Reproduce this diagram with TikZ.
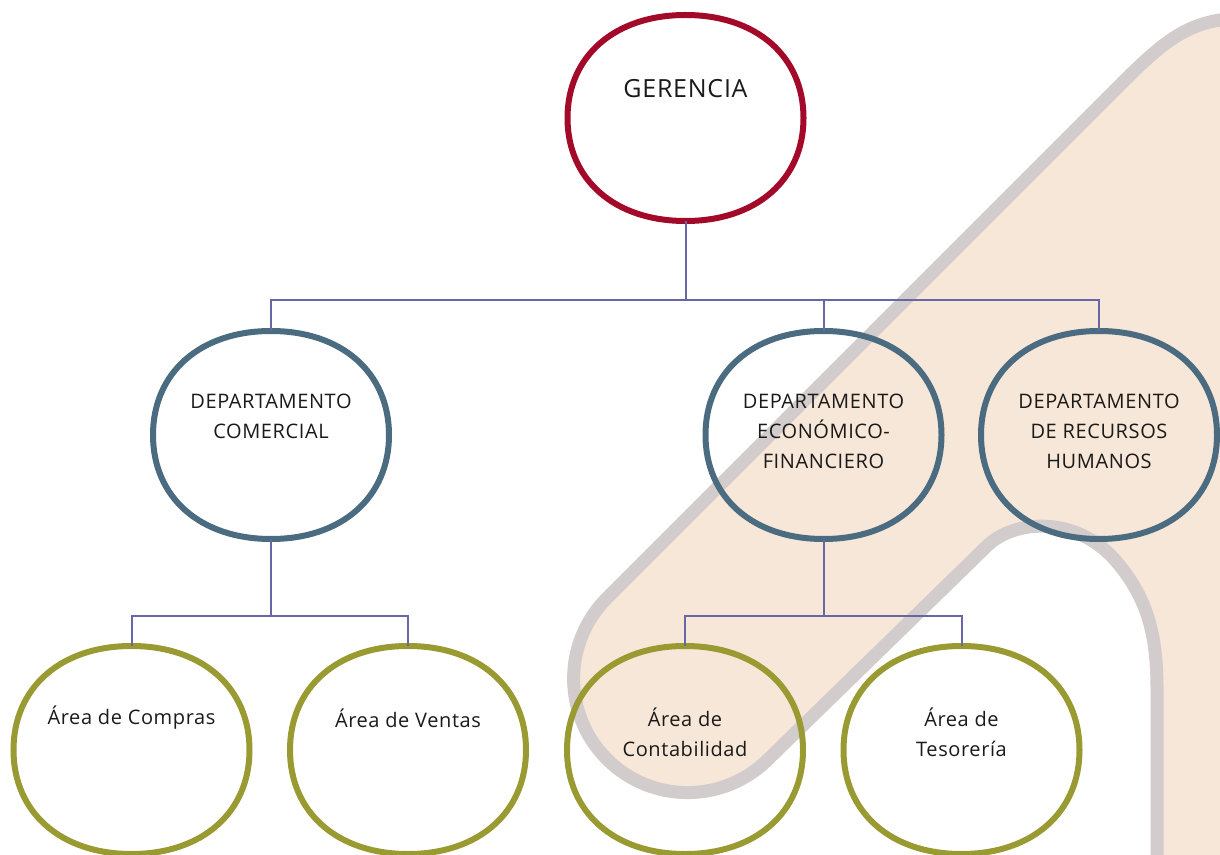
\documentclass[tikz,border=0pt]{standalone}
\usepackage{fontspec}
\setmainfont{Open Sans}[LetterSpace=3]
\usetikzlibrary{calc}
\definecolor{gerred}{HTML}{A30A2A}
\definecolor{depblue}{HTML}{4B6B80}
\definecolor{areaolive}{HTML}{9A9A33}
\definecolor{linkc}{HTML}{6767A3}
\definecolor{bandfill}{HTML}{F6E7D8}
\definecolor{bandline}{HTML}{D3CCCC}
\definecolor{txt}{HTML}{1A1A1A}
\newcommand\squirclepath[2]{%
  \draw[#2, line width=3pt]
   (#1.east) .. controls ($(#1.east)!0.6!(#1.north east)$) and ($(#1.north)!0.6!(#1.north east)$) .. (#1.north)
   .. controls ($(#1.north)!0.6!(#1.north west)$) and ($(#1.west)!0.6!(#1.north west)$) .. (#1.west)
   .. controls ($(#1.west)!0.6!(#1.south west)$) and ($(#1.south)!0.6!(#1.south west)$) .. (#1.south)
   .. controls ($(#1.south)!0.6!(#1.south east)$) and ($(#1.east)!0.6!(#1.south east)$) .. (#1.east) -- cycle;}
\begin{document}
\begin{tikzpicture}[x=0.5pt,y=-0.5pt,
  bubble/.style={rectangle, minimum width=118pt, minimum height=104pt, inner sep=0pt, outer sep=0pt},
  lbl/.style={text=txt, align=center, inner sep=0pt},
  link/.style={draw=linkc, line width=1pt}]
\useasboundingbox (0,0) rectangle (1220,855);
% background watermark
\fill[bandfill] (1220,20) .. controls (1180,26) and (1155,50) .. (1117,88) -- (607,598)
  arc[start angle=225,end angle=45,radius=114] -- (988,545)
  .. controls (1015,520) and (1075,515) .. (1115,560)
  .. controls (1150,600) and (1157,640) .. (1157,690) -- (1157,860) -- (1225,860) -- (1225,20) -- cycle;
\draw[bandline, line width=6.5pt] (1225,19) -- (1220,20) .. controls (1180,26) and (1155,50) .. (1117,88) -- (607,598)
  arc[start angle=225,end angle=45,radius=114] -- (988,545)
  .. controls (1015,520) and (1075,515) .. (1115,560)
  .. controls (1150,600) and (1157,640) .. (1157,690) -- (1157,860);
% nodes
\node[bubble, minimum height=103pt, label={[lbl, yshift=14.5pt, font=\fontsize{12.5}{16}\selectfont]center:GERENCIA}] (ger) at (685.5,118) {};
\node[bubble, label={[lbl, yshift=9.5pt, font=\fontsize{10}{15}\selectfont]center:DEPARTAMENTO\\COMERCIAL}] (dc) at (271,435) {};
\node[bubble, label={[lbl, yshift=2pt, font=\fontsize{10}{15}\selectfont]center:DEPARTAMENTO\\ECONÓMICO-\\FINANCIERO}] (de) at (823.5,435) {};
\node[bubble, label={[lbl, yshift=2pt, font=\fontsize{10}{15}\selectfont]center:DEPARTAMENTO\\DE RECURSOS\\HUMANOS}] (dr) at (1099,435) {};
\node[bubble, label={[lbl, yshift=16pt, font=\fontsize{10}{15}\selectfont]center:Área de Compras}] (ac) at (131.5,750) {};
\node[bubble, label={[lbl, yshift=16pt, font=\fontsize{10}{15}\selectfont]center:Área de Ventas}] (av) at (408,750) {};
\node[bubble, label={[lbl, yshift=9pt, font=\fontsize{10}{15}\selectfont]center:Área de\\Contabilidad}] (acb) at (685,750) {};
\node[bubble, label={[lbl, yshift=9pt, font=\fontsize{10}{15}\selectfont]center:Área de\\Tesorería}] (at) at (961.5,750) {};
% outlines
\squirclepath{ger}{gerred}
\squirclepath{dc}{depblue}
\squirclepath{de}{depblue}
\squirclepath{dr}{depblue}
\squirclepath{ac}{areaolive}
\squirclepath{av}{areaolive}
\squirclepath{acb}{areaolive}
\squirclepath{at}{areaolive}
% connectors
\coordinate (bus1) at (685.5,300);
\coordinate (bus2) at (271,616);
\coordinate (bus3) at (823.5,616);
\draw[link] (ger.south) -- (bus1);
\draw[link] (dc.north) |- (bus1);
\draw[link] (de.north) |- (bus1);
\draw[link] (dr.north) |- (bus1);
\draw[link] (dc.south) -- (bus2);
\draw[link] (ac.north) |- (bus2);
\draw[link] (av.north) |- (bus2);
\draw[link] (de.south) -- (bus3);
\draw[link] (acb.north) |- (bus3);
\draw[link] (at.north) |- (bus3);
\end{tikzpicture}
\end{document}
